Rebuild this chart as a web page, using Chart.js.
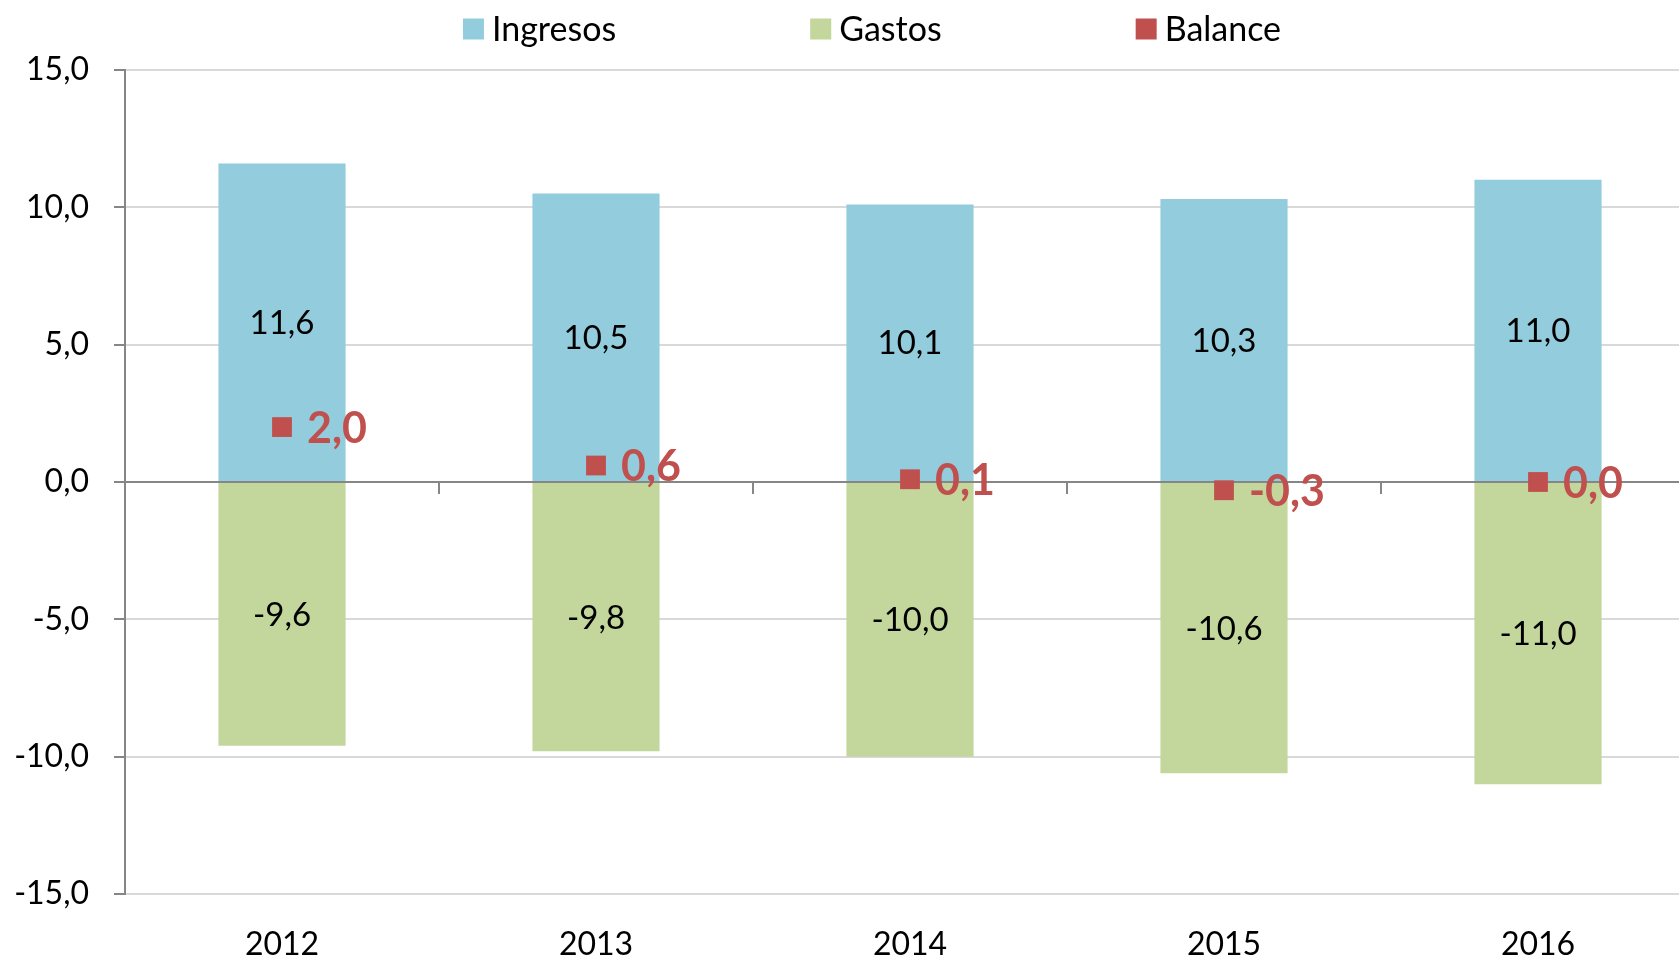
<!DOCTYPE html>
<html><head><meta charset="utf-8">
<style>html,body{margin:0;padding:0;overflow:hidden;background:#fff}</style>
<script src="https://cdn.jsdelivr.net/npm/chart.js@4.4.1/dist/chart.umd.min.js"></script>
</head><body>
<canvas id="c" width="1709" height="958"></canvas>
<script>
const years = ['2012', '2013', '2014', '2015', '2016'];
const ingresos = [11.6, 10.5, 10.1, 10.3, 11.0];
const gastos = [-9.6, -9.8, -10.0, -10.6, -11.0];
const balance = [2.0, 0.6, 0.1, -0.3, 0.0];
const seriesNames = ['Ingresos', 'Gastos', 'Balance'];
const yMin = -15, yMax = 15, yStep = 5;

const fmt = v => v.toFixed(1).replace('.', ',');

const legendPlugin = {
  id: 'customLegend',
  afterDraw(chart, args, opts) {
    const ctx = chart.ctx;
    ctx.save();
    ctx.font = '34px Lato';
    ctx.textBaseline = 'middle';
    ctx.textAlign = 'left';
    const box = 21, gapText = 8, gapItem = 194;
    const items = chart.data.datasets.map(d => ({ text: d.label, color: d.backgroundColor, w: ctx.measureText(d.label).width }));
    let total = items.reduce((s, it) => s + box + gapText + it.w, 0) + gapItem * (items.length - 1);
    let x = opts.centerX - total / 2;
    const y = opts.y;
    items.forEach(it => {
      ctx.fillStyle = it.color;
      ctx.fillRect(x, y - box / 2, box, box);
      ctx.fillStyle = '#000';
      ctx.fillText(it.text, x + box + gapText, y + 1);
      x += box + gapText + it.w + gapItem;
    });
    ctx.restore();
  }
};

const zeroLinePlugin = {
  id: 'zeroLine',
  beforeDatasetDraw(chart, args) {
    if (args.index !== 2) return;
    const ctx = chart.ctx;
    const ys = chart.scales.y, xs = chart.scales.x;
    const y0 = ys.getPixelForValue(0);
    const area = chart.chartArea;
    ctx.save();
    ctx.strokeStyle = '#868686';
    ctx.lineWidth = 2;
    ctx.beginPath();
    ctx.moveTo(area.left, y0);
    ctx.lineTo(area.right, y0);
    for (let i = 1; i < years.length; i++) {
      const bx = (xs.getPixelForValue(i - 1) + xs.getPixelForValue(i)) / 2;
      ctx.moveTo(bx, y0);
      ctx.lineTo(bx, y0 + 12);
    }
    ctx.stroke();
    ctx.restore();
  }
};

const labelPlugin = {
  id: 'valueLabels',
  afterDatasetsDraw(chart) {
    const ctx = chart.ctx;
    ctx.save();
    [0, 1].forEach(di => {
      const meta = chart.getDatasetMeta(di);
      const data = chart.data.datasets[di].data;
      ctx.font = '33px Lato';
      ctx.fillStyle = '#000';
      ctx.textAlign = 'center';
      ctx.textBaseline = 'middle';
      meta.data.forEach((bar, i) => {
        ctx.fillText(fmt(data[i]), bar.x, (bar.y + bar.base) / 2 + 1);
      });
    });
    const meta = chart.getDatasetMeta(2);
    const data = chart.data.datasets[2].data;
    ctx.font = 'bold 43px Lato';
    ctx.fillStyle = '#C0504D';
    ctx.textAlign = 'left';
    ctx.textBaseline = 'middle';
    meta.data.forEach((pt, i) => {
      ctx.fillText(fmt(data[i]), pt.x + 25, pt.y + 2);
    });
    ctx.restore();
  }
};

new Chart(document.getElementById('c'), {
  type: 'bar',
  data: {
    labels: years,
    datasets: [
      { label: seriesNames[0], data: ingresos, backgroundColor: '#93CDDD', grouped: false, categoryPercentage: 1, barPercentage: 0.405, order: 1 },
      { label: seriesNames[1], data: gastos, backgroundColor: '#C3D69B', grouped: false, categoryPercentage: 1, barPercentage: 0.405, order: 1 },
      { label: seriesNames[2], data: balance, type: 'line', showLine: false, backgroundColor: '#C0504D', borderColor: '#C0504D',
        pointStyle: 'rect', pointRadius: 14, pointHoverRadius: 14, pointBorderWidth: 0, order: 0 }
    ]
  },
  options: {
    responsive: false,
    animation: false,
    events: [],
    layout: { padding: { top: 70, right: 6, bottom: 0, left: 0 } },
    plugins: {
      legend: { display: false },
      tooltip: { enabled: false },
      customLegend: { centerX: 872, y: 29 }
    },
    scales: {
      x: {
        grid: { display: false },
        border: { display: false },
        ticks: { color: '#000', font: { family: 'Lato', size: 32 }, padding: 23 },
        afterFit: s => { s.height = 64; }
      },
      y: {
        min: yMin, max: yMax,
        ticks: { stepSize: yStep, color: '#000', font: { family: 'Lato', size: 32 }, padding: 25, callback: v => fmt(v) },
        grid: { color: '#D9D9D9', lineWidth: 2, tickLength: 11, tickColor: '#868686', tickWidth: 2 },
        border: { display: true, color: '#868686', width: 2 },
        afterFit: s => { s.width = 125; }
      }
    }
  },
  plugins: [legendPlugin, zeroLinePlugin, labelPlugin]
});
</script>
</body></html>
